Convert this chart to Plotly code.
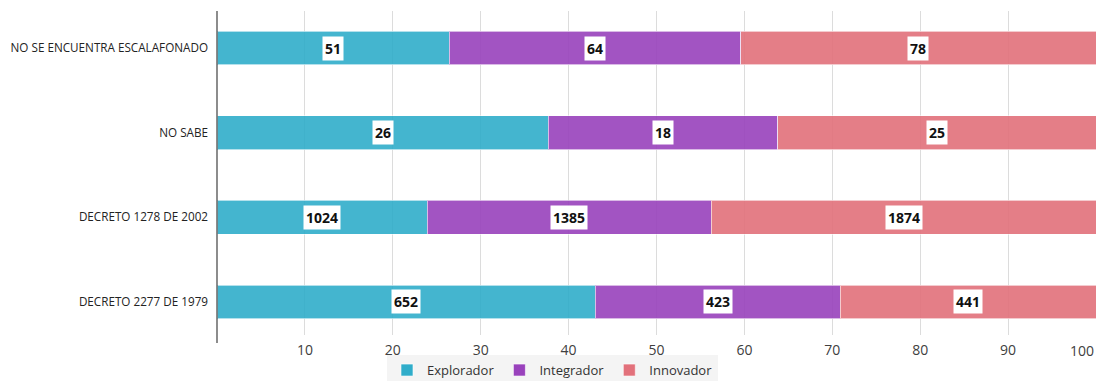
import plotly.graph_objects as go

categories = ["DECRETO 2277 DE 1979", "DECRETO 1278 DE 2002", "NO SABE", "NO SE ENCUENTRA ESCALAFONADO"]
series_names = ["Explorador", "Integrador", "Innovador"]
explorador = [652, 1024, 26, 51]
integrador = [423, 1385, 18, 64]
innovador = [441, 1874, 25, 78]
colors = ["#30ADCA", "#9942BC", "#E2717B"]
tick_vals = [10, 20, 30, 40, 50, 60, 70, 80, 90, 100]
tick_text = ["10", "20", "30", "40", "50", "60", "70", "80", "90", ""]

series = [explorador, integrador, innovador]
totals = [sum(v) for v in zip(*series)]
pcts = [[v / t * 100 for v, t in zip(s, totals)] for s in series]

fig = go.Figure()
for name, vals, pc, col in zip(series_names, series, pcts, colors):
    fig.add_trace(go.Bar(
        y=categories, x=pc, name=name, orientation="h",
        marker=dict(color=col, opacity=0.9, line=dict(color="rgba(255,255,255,0.6)", width=1)),
        width=0.4, hoverinfo="skip",
    ))

annotations = []
for i, cat in enumerate(categories):
    base = 0
    for s in range(3):
        p = pcts[s][i]
        annotations.append(dict(
            x=base + p / 2, y=cat, xref="x", yref="y", text=str(series[s][i]),
            showarrow=False, bgcolor="white", borderpad=2,
            font=dict(family="Open Sans", size=14, color="#111111", weight="bold"),
        ))
        base += p

# last x tick label, kept inside the page like the reference
annotations.append(dict(
    x=tick_vals[-1], y=-0.049, xref="x", yref="paper", text=str(tick_vals[-1]),
    showarrow=False, xanchor="right", yanchor="middle",
    font=dict(family="Open Sans", size=14, color="#404040"),
))

fig.update_layout(
    barmode="stack",
    width=1099, height=381,
    margin=dict(l=217, r=3, t=11, b=46, autoexpand=False),
    paper_bgcolor="white", plot_bgcolor="white",
    annotations=annotations,
    showlegend=True,
    legend=dict(orientation="h", x=0.1934, xanchor="left", y=-0.062, yanchor="top",
                bgcolor="#f4f4f4", font=dict(family="Open Sans", size=13, color="#333333"),
                itemwidth=30, traceorder="normal"),
    xaxis=dict(range=[0, 100], tickvals=tick_vals, ticktext=tick_text, showgrid=True,
               gridcolor="#dcdcdc", gridwidth=1, zeroline=False, showline=False,
               tickfont=dict(family="Open Sans", size=14, color="#404040"), ticks="",
               ticklabelstandoff=5),
    yaxis=dict(categoryorder="array", categoryarray=categories, range=[-0.39, 3.437],
               showgrid=False, zeroline=False, showline=False, ticks="",
               ticklabelstandoff=8,
               tickfont=dict(family="Open Sans", size=11.7, color="#222222")),
    shapes=[dict(type="line", xref="paper", yref="paper", x0=0, x1=0, y0=-0.0247, y1=1,
                 line=dict(color="#404040", width=1.2))],
)

fig.write_html("out.html")
